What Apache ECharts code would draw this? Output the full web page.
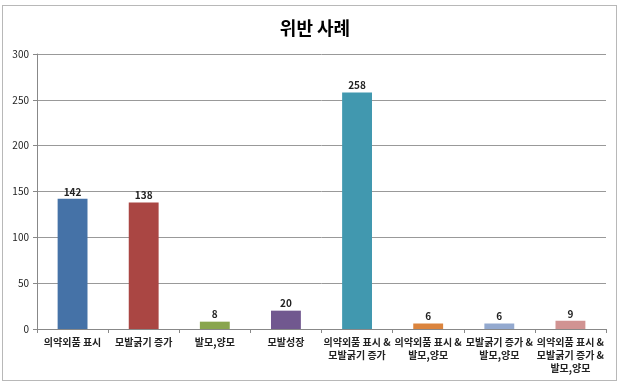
<!DOCTYPE html>
<html><head><meta charset="utf-8">
<script src="https://cdn.jsdelivr.net/npm/echarts@6/dist/echarts.min.js"></script>
<style>html,body{margin:0;padding:0;background:#fff;}#c{width:630px;height:384px;}
#frame{position:absolute;left:2px;top:5px;width:615px;height:376px;border:1px solid #b8b8b8;box-sizing:border-box;pointer-events:none;}</style>
</head><body><div id="c"></div><div id="frame"></div>
<script>
const title = '위반 사례';
const categories = ['의약외품 표시', '모발굵기 증가', '발모,양모', '모발성장', '의약외품 표시 &\n모발굵기 증가', '의약외품 표시 &\n발모,양모', '모발굵기 증가 &\n발모,양모', '의약외품 표시 &\n모발굵기 증가 &\n발모,양모'];
const values = [142, 138, 8, 20, 258, 6, 6, 9];
const colors = ['#4572A7', '#AA4643', '#89A54E', '#71588F', '#4198AF', '#DB843D', '#93A9CF', '#D19392'];
const yTicks = [0, 50, 100, 150, 200, 250, 300];

const font = '"Noto Sans CJK KR", sans-serif';
const chart = echarts.init(document.getElementById('c'));
chart.setOption({
  animation: false,
  title: {text: title, left: 'center', top: 14, textStyle: {fontFamily: font, fontSize: 18, fontWeight: 'bold', color: '#000'}},
  grid: {left: 37, right: 24, top: 54, bottom: 55},
  xAxis: {
    type: 'category', data: categories,
    axisLine: {lineStyle: {color: '#888'}},
    axisTick: {show: true, lineStyle: {color: '#888'}, length: 4},
    axisLabel: {interval: 0, fontFamily: font, fontSize: 10, fontWeight: 'bold', color: '#222', lineHeight: 13, margin: 7}
  },
  yAxis: {
    type: 'value', min: yTicks[0], max: yTicks[yTicks.length - 1], interval: 50,
    axisLine: {show: true, lineStyle: {color: '#888'}},
    axisTick: {show: true, inside: false, length: 4, lineStyle: {color: '#888'}},
    splitLine: {lineStyle: {color: '#999', width: 1}},
    axisLabel: {fontFamily: font, fontSize: 10, color: '#222', margin: 8}
  },
  series: [{
    type: 'bar', barWidth: '42%',
    data: values.map((v, i) => ({value: v, itemStyle: {color: colors[i]}})),
    label: {show: true, position: 'top', distance: 2, fontFamily: font, fontSize: 10, fontWeight: 'bold', color: '#222'}
  }]
});
</script></body></html>
